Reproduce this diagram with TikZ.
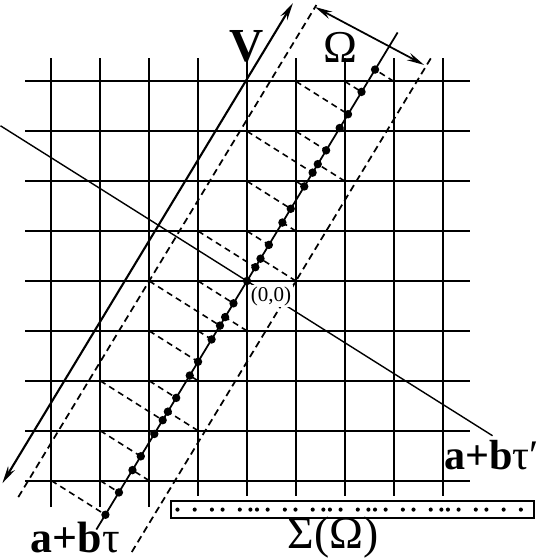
\documentclass[tikz,border=0pt]{standalone}
\usepackage{fontspec}
\setmainfont{Liberation Serif}
\usetikzlibrary{arrows.meta}

\def\gold{1.618034}

\begin{document}
\begin{tikzpicture}[x=0.98cm,y=1cm,
	gridline/.style={line width=1.3pt},
	window/.style={line width=1pt,dash pattern=on 4pt off 2.5pt},
	proj/.style={line width=0.9pt,dash pattern=on 3.5pt off 2.5pt},
	>={Stealth[length=10pt,width=4.5pt]}]
	\useasboundingbox (-5.05,-5.59) rectangle (6.24,5.63);
	% square lattice
	\foreach \k in {-4,...,4}{
		\draw[gridline] (\k,-4.53) -- (\k,4.47);
		\draw[gridline] (-4.53,\k) -- (4.55,\k);
	}
	% box for the point set
	\draw[line width=1.2pt,fill=white,preaction={draw=white,line width=0.2cm}] (-1.55,-4.41) rectangle (5.86,-4.75);
	% strip borders
	\coordinate (wl1) at (-4.676,-4.33);
	\coordinate (wl2) at (1.418,5.53);
	\coordinate (wr1) at (-2.356,-5.43);
	\coordinate (wr2) at (3.763,4.47);
	\draw[window] (wl1) -- (wl2);
	\draw[window] (wr1) -- (wr2);
	% points of the strip, projected
	\foreach \m in {-4,...,4}{
		\foreach \n in {-4,...,4}{
			\pgfmathsetmacro{\h}{\m-(\n)/\gold}
			\pgfmathtruncatemacro{\inside}{(\h>-2.001)&&(\h<1.001)}
			\ifnum\inside=1
				\pgfmathsetmacro{\s}{(\m+(\n)*\gold)/(1+\gold*\gold)}
				\pgfmathsetmacro{\u}{2.265+0.352*(\m+(\n)*\gold)}
				\coordinate (lat) at (\m,\n);
				\coordinate (prj) at (\s,\gold*\s);
				\draw[proj] (lat) -- (prj);
				\fill (prj) circle (0.085);
				\fill (\u,-4.58) circle (0.042);
			\fi
		}
	}
	% the two lines through the origin and V
	\coordinate (O) at (0,0);
	\coordinate (par1) at (-3.08,-4.98);
	\coordinate (par2) at (3.08,4.98);
	\coordinate (perp1) at (-5.04,3.11);
	\coordinate (perp2) at (5.02,-3.10);
	\coordinate (v1) at (-5.0,-4.05);
	\coordinate (v2) at (0.94,5.57);
	\coordinate (om1) at (1.39,5.49);
	\coordinate (om2) at (3.62,4.33);
	\draw[line width=1pt] (par1) -- (par2);
	\draw[line width=0.8pt] (perp1) -- (perp2);
	\draw[line width=1.2pt,<->] (v1) -- (v2);
	\draw[line width=1pt,<->] (om1) -- (om2);
	% labels
	\node[font=\fontsize{27}{29}\selectfont\bfseries] (Vlab) at (0,4.71) {V};
	\node[font=\fontsize{26}{28}\selectfont] (Omlab) at (1.92,4.69) {Ω};
	\node[inner sep=0pt,font=\fontsize{25}{27}\selectfont] (qlab) at (-3.51,-5.13) {\textbf{a+b}τ};
	\node[font=\fontsize{24}{26}\selectfont] (qplab) at (5.0,-3.49) {\textbf{a+b}τ′};
	\node[inner sep=0pt,font=\fontsize{26}{28}\selectfont] (sigmalab) at (1.76,-5.14) {Σ(Ω)};
	\node[fill=white,inner sep=1pt,font=\fontsize{12}{14}\selectfont] (origin) at (0.49,-0.30) {(0,0)};
\end{tikzpicture}
\end{document}
